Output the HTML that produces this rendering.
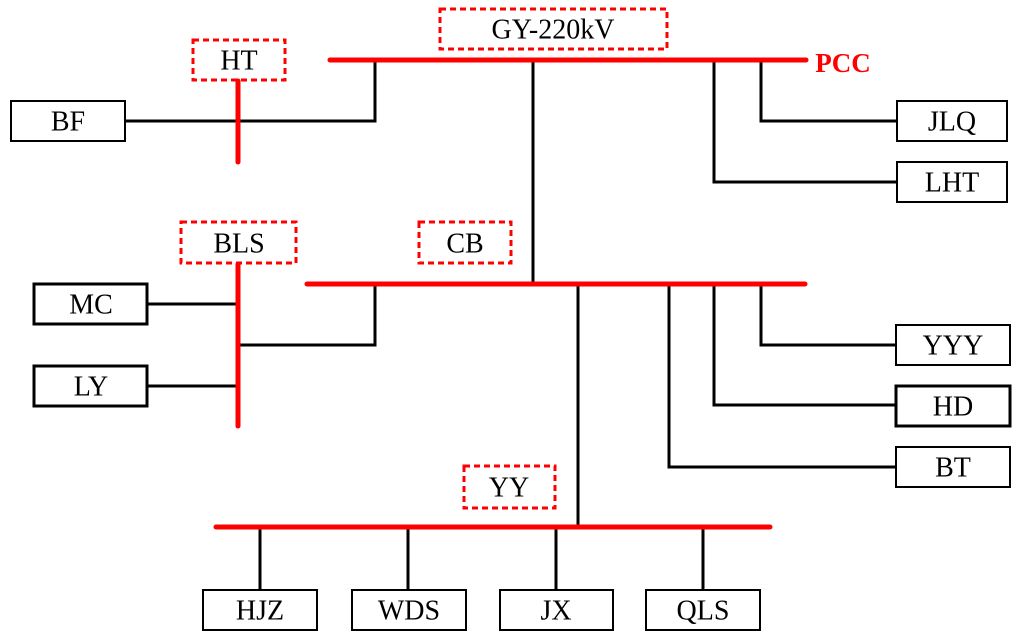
<!DOCTYPE html>
<html><head><meta charset="utf-8"><style>body{margin:0;background:#fff}svg{display:block}text{font-family:"Liberation Serif",serif;font-size:28px;text-anchor:middle;dominant-baseline:central}</style></head><body>
<svg width="1024" height="638" viewBox="0 0 1024 638">
<g fill="none" stroke="#000" stroke-width="3">
<polyline points="125,121 375,121 375,60"/>
<line x1="533" y1="60" x2="533" y2="284"/>
<polyline points="714,60 714,182 897,182"/>
<polyline points="761,60 761,121 897,121"/>
<line x1="147" y1="304" x2="238" y2="304"/>
<line x1="147" y1="386" x2="238" y2="386"/>
<polyline points="238,345 375,345 375,284"/>
<line x1="578" y1="284" x2="578" y2="527"/>
<polyline points="669,284 669,467 896,467"/>
<polyline points="714,284 714,405 896,405"/>
<polyline points="761,284 761,345 896,345"/>
<line x1="260" y1="527" x2="260" y2="590"/>
<line x1="408" y1="527" x2="408" y2="590"/>
<line x1="556" y1="527" x2="556" y2="590"/>
<line x1="703" y1="527" x2="703" y2="590"/>
</g>
<g stroke="red" stroke-width="5" stroke-linecap="round">
<line x1="330" y1="60" x2="806" y2="60"/>
<line x1="238" y1="81" x2="238" y2="162"/>
<line x1="307" y1="284" x2="805" y2="284"/>
<line x1="238" y1="264" x2="238" y2="426"/>
<line x1="216" y1="527" x2="770" y2="527"/>
</g>
<g fill="none" stroke="red" stroke-width="3" stroke-dasharray="6,4">
<rect x="440" y="9" width="227" height="40"/>
<rect x="193" y="40" width="92" height="40"/>
<rect x="181" y="222" width="115" height="41"/>
<rect x="419" y="222" width="92" height="41"/>
<rect x="464" y="466" width="91" height="42"/>
</g>
<g fill="#fff" stroke="#000" stroke-width="2">
<rect x="11" y="101" width="114" height="40"/>
<rect x="897" y="101" width="110" height="40"/>
<rect x="897" y="162" width="110" height="40"/>
<rect x="34" y="284" width="113" height="40" stroke-width="3"/>
<rect x="34" y="366" width="113" height="40" stroke-width="3"/>
<rect x="896" y="325" width="114" height="40"/>
<rect x="896" y="386" width="114" height="40" stroke-width="3"/>
<rect x="896" y="447" width="114" height="40"/>
<rect x="203" y="590" width="114" height="40"/>
<rect x="352" y="590" width="114" height="40"/>
<rect x="500" y="590" width="113" height="40"/>
<rect x="646" y="590" width="114" height="40"/>
</g>
<text x="553" y="30">GY-220kV</text>
<text x="239" y="61">HT</text>
<text x="68" y="122">BF</text>
<text x="952" y="122">JLQ</text>
<text x="952" y="183">LHT</text>
<text x="239" y="244">BLS</text>
<text x="465" y="244">CB</text>
<text x="91" y="305">MC</text>
<text x="91" y="387">LY</text>
<text x="953" y="346">YYY</text>
<text x="953" y="407">HD</text>
<text x="953" y="468">BT</text>
<text x="509" y="488">YY</text>
<text x="260" y="611">HJZ</text>
<text x="409" y="611">WDS</text>
<text x="556" y="611">JX</text>
<text x="703" y="611">QLS</text>
<text x="843" y="63" fill="red" font-weight="bold" style="font-size:27px">PCC</text>
</svg>
</body></html>
